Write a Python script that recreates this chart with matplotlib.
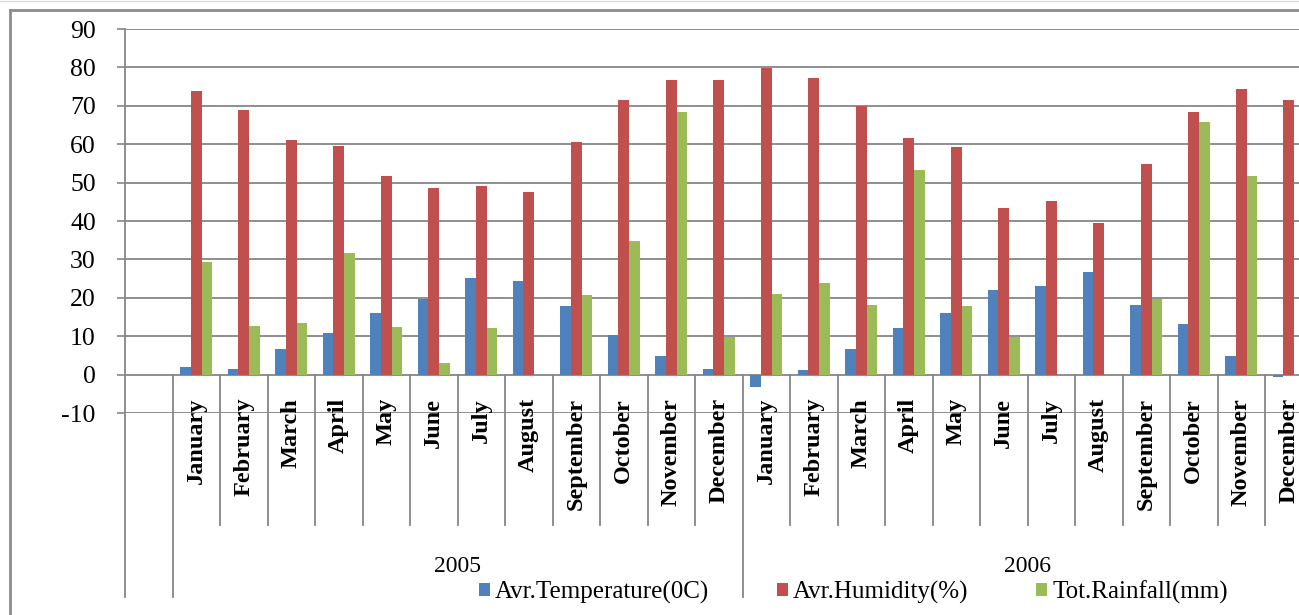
import matplotlib
matplotlib.use("Agg")
import matplotlib.pyplot as plt
from matplotlib.lines import Line2D
import numpy as np

months = ["January", "February", "March", "April", "May", "June", "July",
          "August", "September", "October", "November", "December"]
years = ["2005", "2006"]
categories = [""] + months + months

temperature = [None,
               2.0, 1.5, 6.7, 10.8, 16.0, 19.7, 25.1, 24.3, 17.8, 10.3, 4.9, 1.5,
               -3.1, 1.2, 6.7, 12.1, 16.0, 22.0, 23.0, 26.7, 18.1, 13.2, 4.9, -0.5]
humidity = [None,
            73.9, 69.0, 61.2, 59.6, 51.6, 48.7, 49.0, 47.6, 60.7, 71.6, 76.6, 76.6,
            79.9, 77.3, 70.0, 61.7, 59.3, 43.3, 45.1, 39.6, 54.9, 68.4, 74.4, 71.6]
rainfall = [None,
            29.3, 12.6, 13.4, 31.6, 12.4, 3.0, 12.1, 0.0, 20.7, 34.7, 68.4, 9.8,
            20.9, 23.8, 18.1, 53.4, 17.8, 9.8, 0.0, 0.0, 19.7, 65.9, 51.6, 0.0]

series_names = ["Avr.Temperature(0C)", "Avr.Humidity(%)", "Tot.Rainfall(mm)"]
colors = ["#4F81BD", "#C0504D", "#9BBB59"]
yticks = list(range(-10, 100, 10))

plt.rcParams["font.family"] = ["Liberation Serif", "DejaVu Serif"]

W, H = 1299, 615
fig = plt.figure(figsize=(W / 100, H / 100), dpi=100)
fig.patch.set_facecolor("white")

n = len(categories)
x_left, cat_w = 125, 47.5
y_top, y_bot = 29, 413
ax = fig.add_axes([x_left / W, 1 - y_bot / H, n * cat_w / W, (y_bot - y_top) / H])
ax.set_xlim(-0.5, n - 0.5)
ax.set_ylim(-10, 90)

grid_c = "#868686"
bw = 0.225
x = np.arange(n)
for k, (vals, c, name) in enumerate(zip([temperature, humidity, rainfall], colors, series_names)):
    v = np.array([np.nan if t is None else t for t in vals], dtype=float)
    ax.bar(x + (k - 1) * bw, v, width=bw, color=c, label=name, zorder=3)

for s in ax.spines.values():
    s.set_visible(False)
ax.set_yticks(yticks)
ax.set_yticklabels([str(t) for t in yticks], fontsize=18.5)
ax.tick_params(axis="y", direction="out", length=6, width=1.2, color=grid_c, pad=15)
ax.set_xticks([])
ax.yaxis.grid(True, color=grid_c, linewidth=1.3, zorder=0)
ax.set_axisbelow(True)

upp = 100 / (y_bot - y_top)
def yv(py):
    return -(py - (y_top + 90 / upp)) * upp

ax.add_line(Line2D([-0.5, -0.5], [90, yv(597)], color=grid_c, lw=1.3, clip_on=False, zorder=4))
for i in range(1, n + 1):
    bottom = yv(597) if i in (1, 13) else yv(525)
    ax.add_line(Line2D([i - 0.5, i - 0.5], [0, bottom], color=grid_c, lw=1.3, clip_on=False, zorder=4))

for i, lab in enumerate(categories):
    if lab:
        ax.text(i, yv(398), lab, rotation=90, ha="center", va="top",
                fontsize=17.5, fontweight="bold", clip_on=False)
ax.text(6.5, yv(566), years[0], ha="center", va="center", fontsize=17, clip_on=False)
ax.text(18.5, yv(566), years[1], ha="center", va="center", fontsize=17, clip_on=False)

leg = fig.legend(loc="center", bbox_to_anchor=(0.657, 1 - 592 / H), ncol=3, frameon=False,
                 fontsize=18, handlelength=0.45, handleheight=0.45, handletextpad=0.2,
                 columnspacing=2.7, borderaxespad=0)

border_c = "#8c8c8c"
fig.add_artist(Line2D([10 / W, 10 / W], [0, 1 - 10 / H], color=border_c, lw=2, transform=fig.transFigure))
fig.add_artist(Line2D([10 / W, 1], [1 - 10 / H, 1 - 10 / H], color=border_c, lw=2, transform=fig.transFigure))
fig.add_artist(Line2D([0, 1], [1 - 1 / H, 1 - 1 / H], color="#d9d9d9", lw=1, transform=fig.transFigure))

fig.savefig("out.png", dpi=100)
